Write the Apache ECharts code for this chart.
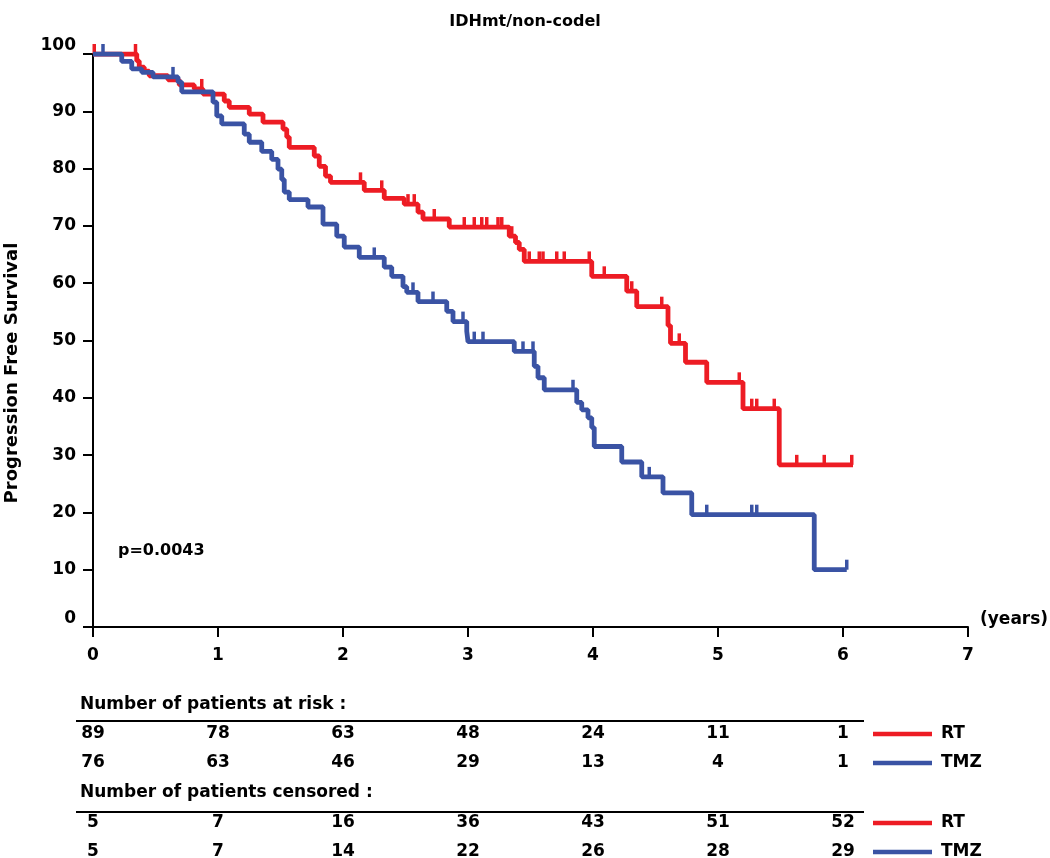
<!DOCTYPE html>
<html><head><meta charset="utf-8">
<script src="https://cdn.jsdelivr.net/npm/echarts/dist/echarts.min.js"></script>
<style>html,body{margin:0;padding:0;background:#fff}#c{width:1050px;height:858px}</style>
</head><body><div id="c"></div>
<script>
// ---- data ----
const rtTimes = [0, 0.35, 0.37, 0.41, 0.45, 0.60, 0.69, 0.81, 0.88, 1.05, 1.09, 1.25, 1.36, 1.52, 1.55, 1.57, 1.77, 1.81, 1.86, 1.90, 2.17, 2.33, 2.49, 2.60, 2.64, 2.85, 3.33, 3.38, 3.41, 3.45, 3.99, 4.27, 4.35, 4.60, 4.62, 4.74, 4.91, 5.20, 5.49, 6.08];
const rtSurv  = [100, 98.8, 97.7, 97.0, 96.2, 95.5, 94.6, 93.9, 93.0, 91.8, 90.7, 89.5, 88.1, 86.9, 85.5, 83.7, 82.2, 80.4, 78.7, 77.6, 76.2, 74.8, 73.8, 72.4, 71.2, 69.8, 68.2, 67.1, 65.9, 63.8, 61.2, 58.6, 55.9, 52.6, 49.5, 46.2, 42.7, 38.1, 28.3, 28.3];
const tmzTimes = [0, 0.23, 0.31, 0.39, 0.48, 0.68, 0.71, 0.96, 0.99, 1.03, 1.21, 1.25, 1.35, 1.43, 1.48, 1.51, 1.53, 1.57, 1.72, 1.84, 1.95, 2.01, 2.13, 2.33, 2.39, 2.48, 2.51, 2.60, 2.83, 2.88, 2.99, 3.00, 3.37, 3.53, 3.56, 3.61, 3.87, 3.91, 3.96, 3.99, 4.01, 4.23, 4.39, 4.56, 4.79, 5.77, 6.03];
const tmzSurv  = [100, 98.7, 97.4, 96.8, 96.0, 95.1, 93.4, 91.6, 89.2, 87.8, 86.0, 84.6, 83.0, 81.6, 79.9, 78.1, 75.9, 74.6, 73.3, 70.3, 68.2, 66.3, 64.5, 62.8, 61.2, 59.4, 58.4, 56.8, 55.1, 53.3, 51.6, 49.8, 48.1, 45.5, 43.5, 41.4, 39.2, 37.9, 36.5, 34.8, 31.5, 28.8, 26.2, 23.4, 19.6, 10.0, 10.0];
const rtCensTimes = [0.01, 0.34, 0.87, 2.14, 2.31, 2.52, 2.57, 2.73, 2.97, 3.05, 3.11, 3.15, 3.24, 3.27, 3.35, 3.49, 3.57, 3.60, 3.71, 3.77, 3.97, 4.09, 4.31, 4.55, 4.69, 5.17, 5.27, 5.31, 5.45, 5.63, 5.85, 6.07];
const rtCensSurv  = [100, 100, 93.9, 77.6, 76.2, 73.8, 73.8, 71.2, 69.8, 69.8, 69.8, 69.8, 69.8, 69.8, 68.2, 63.8, 63.8, 63.8, 63.8, 63.8, 63.8, 61.2, 58.6, 55.9, 49.5, 42.7, 38.1, 38.1, 38.1, 28.3, 28.3, 28.3];
const tmzCensTimes = [0.08, 0.64, 2.25, 2.56, 2.72, 2.96, 3.05, 3.12, 3.44, 3.52, 3.84, 4.45, 4.91, 5.27, 5.31, 6.03];
const tmzCensSurv  = [100, 96.0, 64.5, 58.4, 56.8, 53.3, 49.8, 49.8, 48.1, 48.1, 41.4, 26.2, 19.6, 19.6, 19.6, 10.0];
const tableYears = [0, 1, 2, 3, 4, 5, 6];
const atRiskRT  = [89, 78, 63, 48, 24, 11, 1];
const atRiskTMZ = [76, 63, 46, 29, 13, 4, 1];
const censoredRT  = [5, 7, 16, 36, 43, 51, 52];
const censoredTMZ = [5, 7, 14, 22, 26, 28, 29];
const groupNames = ['RT', 'TMZ'];

// ---- styles ----
const RED = '#ED1C24', BLUE = '#3A53A4';
const FF = '"DejaVu Sans", sans-serif';
const pairs = (a, b) => a.map((t, i) => [t, b[i]]);

const chart = echarts.init(document.getElementById('c'), null, {renderer: 'canvas'});
const labelStyle = {fontFamily: FF, fontWeight: 'bold', fontSize: 17, color: '#000'};
const option = {
  animation: false,
  backgroundColor: '#fff',
  title: {text: 'IDHmt/non-codel', left: 'center', top: 9,
    textStyle: {fontFamily: FF, fontWeight: 'bold', fontSize: 16, color: '#000'}},
  grid: {left: 93, top: 54, width: 875, height: 573, containLabel: false},
  xAxis: {type: 'value', min: 0, max: 7, interval: 1,
    axisLine: {lineStyle: {color: '#000', width: 2}},
    axisTick: {length: 10, lineStyle: {color: '#000', width: 2}},
    axisLabel: Object.assign({margin: 20}, labelStyle),
    splitLine: {show: false}},
  yAxis: {type: 'value', min: 0, max: 100, interval: 10,
    axisLine: {show: true, lineStyle: {color: '#000', width: 2}},
    axisTick: {show: true, length: 10, lineStyle: {color: '#000', width: 2}},
    axisLabel: Object.assign({margin: 17,
      formatter: v => (v === 100 || v === 0) ? '{up|' + v + '}' : String(v),
      rich: {up: Object.assign({padding: [0, 0, 16, 0]}, labelStyle)}}, labelStyle),
    splitLine: {show: false}},
  series: [
    {name: 'RT', type: 'line', step: 'end', data: pairs(rtTimes, rtSurv), symbol: 'none',
      lineStyle: {color: RED, width: 4.8}, z: 3},
    {name: 'RT censored', type: 'scatter', data: pairs(rtCensTimes, rtCensSurv),
      symbol: 'rect', symbolSize: [3.5, 10], symbolOffset: [0, -5], itemStyle: {color: RED, opacity: 1}, z: 3},
    {name: 'TMZ', type: 'line', step: 'end', data: pairs(tmzTimes, tmzSurv), symbol: 'none',
      lineStyle: {color: BLUE, width: 4.8}, z: 4},
    {name: 'TMZ censored', type: 'scatter', data: pairs(tmzCensTimes, tmzCensSurv),
      symbol: 'rect', symbolSize: [3.5, 10], symbolOffset: [0, -5], itemStyle: {color: BLUE, opacity: 1}, z: 4}
  ]
};
chart.setOption(option);

// ---- texts and risk table ----
function txt(text, x, y, size, align, extra) {
  return Object.assign({type: 'text', x: x, y: y, z: 10,
    style: {text: text, fill: '#000', font: 'bold ' + size + 'px ' + FF,
      align: align, verticalAlign: 'middle', textAlign: align, textVerticalAlign: 'middle'}}, extra || {});
}
function hline(x1, x2, y, color, w) {
  return {type: 'line', z: 10, shape: {x1: x1, y1: y, x2: x2, y2: y}, style: {stroke: color, lineWidth: w}};
}
const xs = tableYears.map(t => chart.convertToPixel({xAxisIndex: 0}, t));
const g = [];
g.push(txt('Progression Free Survival', 12, 373, 18, 'center', {rotation: Math.PI / 2}));
g.push(txt('(years)', 980, 620, 17, 'left'));
g.push(txt('p=0.0043', 118, 551, 16, 'left'));
g.push(txt('Number of patients at risk :', 80, 705, 17, 'left'));
g.push(hline(76, 864, 721, '#000', 2));
g.push(txt('Number of patients censored :', 80, 793, 17, 'left'));
g.push(hline(76, 864, 812, '#000', 2));
const rows = [[atRiskRT, 734, RED, groupNames[0]], [atRiskTMZ, 763, BLUE, groupNames[1]],
              [censoredRT, 823, RED, groupNames[0]], [censoredTMZ, 852, BLUE, groupNames[1]]];
rows.forEach(r => {
  r[0].forEach((v, i) => g.push(txt(String(v), xs[i], r[1], 17, 'center')));
  g.push(hline(873, 932, r[1], r[2], 4.5));
  g.push(txt(r[3], 941, r[1], 17, 'left'));
});
chart.setOption({graphic: g});
</script>
</body></html>
